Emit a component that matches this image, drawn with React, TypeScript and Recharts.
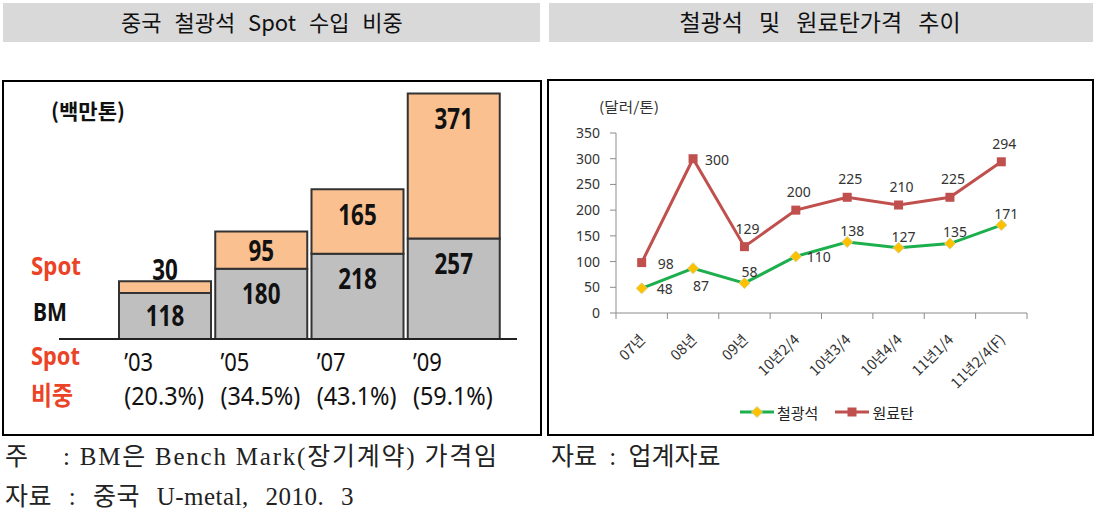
import { Bar, BarChart, LabelList, Legend, Line, LineChart, XAxis, YAxis } from 'recharts'

const KR = "'Noto Sans CJK KR', 'Noto Sans', sans-serif"
const LAT = "'Noto Sans', 'Noto Sans CJK KR', sans-serif"
const SERIF = "'Liberation Serif', 'DejaVu Serif', 'Noto Sans CJK KR', serif"

const RED_TXT = '#EB4326'
const PEACH = '#FAC090'
const GRAY = '#BFBFBF'
const ORE_GREEN = '#1DAF4E'
const DIAMOND = '#FFC000'
const COKE_RED = '#C0504D'
const AXIS = '#8C8C8C'

// 왼쪽: 중국 철광석 수입 (백만톤)
const YEARS = ['’03', '’05', '’07', '’09']
const BM = [118, 180, 218, 257]
const SPOT = [30, 95, 165, 371]
const SPOT_SHARE = ['(20.3%)', '(34.5%)', '(43.1%)', '(59.1%)']

// 오른쪽: 철광석 / 원료탄 가격 (달러/톤)
const PERIODS = ['07년', '08년', '09년', '10년2/4', '10년3/4', '10년4/4', '11년1/4', '11년2/4(F)']
const ORE = [48, 87, 58, 110, 138, 127, 135, 171]
const COKE = [98, 300, 129, 200, 225, 210, 225, 294]
const PRICE_TICKS = [0, 50, 100, 150, 200, 250, 300, 350]

// label placement (style only)
const ORE_LABEL_AT = ['right', 'bottom', 'top', 'right', 'top', 'top', 'top', 'top']
const COKE_LABEL_AT = ['right', 'right', 'top', 'top', 'top', 'top', 'top', 'top']
const ORE_SHIFT: Record<string, [number, number]> = { right: [23, 1], bottom: [8, 18], top: [5, -11] }
const COKE_SHIFT: Record<string, [number, number]> = { right: [24, 1], top: [3, -18] }

const importRows = YEARS.map((year, i) => ({ year, bm: BM[i], spot: SPOT[i] }))
const priceRows = PERIODS.map((period, i) => ({ period, ore: ORE[i], coke: COKE[i] }))

const PRICE_PLOT_W = 411
const BAND = PRICE_PLOT_W / PERIODS.length

// 막대 안 숫자: 세그먼트 위쪽에 두되, 너무 얇으면 막대 위로
function BarValue(props: any) {
  const { x = 0, y = 0, width = 0, height = 0, value } = props
  const h = Number(height)
  const cx = Number(x) + Number(width) / 2
  const cy = h < 34 ? Number(y) - 12 : Number(y) + Math.min(h / 2, 25)
  const s = String(value)
  return (
    <text x={cx} y={cy} dy="0.36em" textAnchor="middle" fontFamily={LAT} fontWeight={700} fontSize={29}
      fill="#111" textLength={s.length * 12.8} lengthAdjust="spacingAndGlyphs">
      {s}
    </text>
  )
}

function YearTick(props: any) {
  const { x = 0, y = 0, payload, index = 0 } = props
  const left = x - 41
  return (
    <g>
      <text x={left} y={y + 32} fontFamily={LAT} fontSize={25} fill="#111" textLength={29} lengthAdjust="spacingAndGlyphs">
        {payload?.value}
      </text>
      <text x={left} y={y + 66} fontFamily={LAT} fontSize={25} fill="#111" textLength={80} lengthAdjust="spacingAndGlyphs">
        {SPOT_SHARE[index]}
      </text>
    </g>
  )
}

function PeriodTick(props: any) {
  const { x = 0, y = 0, payload, index = 0 } = props
  const last = index === PERIODS.length - 1
  return (
    <g>
      <line x1={x - BAND / 2} x2={x - BAND / 2} y1={y} y2={y + 6} stroke={AXIS} />
      {last && <line x1={x + BAND / 2} x2={x + BAND / 2} y1={y} y2={y + 6} stroke={AXIS} />}
      <text transform={`translate(${x + 1},${y + 24}) rotate(-45)`} textAnchor="end" dy="0.35em"
        fontFamily={KR} fontSize={14.5} fill="#333">
        {payload?.value}
      </text>
    </g>
  )
}

function pointLabel(places: string[], shifts: Record<string, [number, number]>) {
  return (props: any) => {
    const { x = 0, y = 0, value, index = 0 } = props
    const [dx, dy] = shifts[places[index]] ?? [0, -14]
    return (
      <text x={Number(x) + dx} y={Number(y) + dy} dy="0.35em" textAnchor="middle" fontFamily={LAT} fontSize={14} fill="#333">
        {value}
      </text>
    )
  }
}

function Diamond({ cx = 0, cy = 0 }: { cx?: number; cy?: number }) {
  return <path d={`M${cx},${cy - 5.5}L${cx + 5.5},${cy}L${cx},${cy + 5.5}L${cx - 5.5},${cy}Z`} fill={DIAMOND} stroke="#D8D48A" strokeWidth={1} />
}

function Square({ cx = 0, cy = 0 }: { cx?: number; cy?: number }) {
  return <rect x={cx - 4.5} y={cy - 4.5} width={9} height={9} fill={COKE_RED} />
}

function PriceLegend() {
  const item = (color: string, marker: 'diamond' | 'square', label: string, gap: number) => (
    <div style={{ display: 'flex', alignItems: 'center', marginRight: gap }}>
      <svg width={34} height={14}>
        <line x1={0} x2={34} y1={7} y2={7} stroke={color} strokeWidth={3} />
        {marker === 'diamond' ? <Diamond cx={17} cy={7} /> : <Square cx={17} cy={7} />}
      </svg>
      <span style={{ marginLeft: 3 }}>{label}</span>
    </div>
  )
  return (
    <div style={{ display: 'flex', alignItems: 'center', height: 22, paddingLeft: 192, fontFamily: KR, fontSize: 15, color: '#222' }}>
      {item(ORE_GREEN, 'diamond', '철광석', 17)}
      {item(COKE_RED, 'square', '원료탄', 0)}
    </div>
  )
}

export default function App() {
  return (
    <div style={{ position: 'absolute', left: 0, top: 0, width: 1095, height: 511, background: '#fff' }}>
      <svg width={1095} height={511} style={{ position: 'absolute', left: 0, top: 0 }}>
        <rect x={3} y={3} width={537} height={39} fill="#D9D9D9" />
        <rect x={549} y={3} width={544} height={39} fill="#D9D9D9" />
        <text x={121} y={31} fontFamily={KR} fontSize={22} fill="#111" wordSpacing={8}>
          중국 철광석 Spot 수입 비중
        </text>
        <text x={820} y={31} textAnchor="middle" fontFamily={KR} fontSize={23} fill="#111" wordSpacing={11}>
          철광석 및 원료탄가격 추이
        </text>
        <rect x={3} y={81} width={538} height={354} fill="none" stroke="#000" strokeWidth={2} />
        <rect x={548} y={80} width={545} height={355} fill="none" stroke="#000" strokeWidth={2} />

        <text x={5} y={465} fontFamily={SERIF} fontSize={25} fill="#222">주</text>
        <text x={63} y={465} fontFamily={SERIF} fontSize={25} fill="#222" textLength={434} lengthAdjust="spacing">
          : BM은 Bench Mark(장기계약) 가격임
        </text>
        <text x={5} y={505} fontFamily={SERIF} fontSize={25} fill="#222" wordSpacing={10} letterSpacing={0.5}>
          자료 : 중국 U-metal, 2010. 3
        </text>
        <text x={551} y={465} fontFamily={SERIF} fontSize={25} fill="#222" wordSpacing={6}>
          자료 : 업계자료
        </text>
      </svg>

      <div style={{ position: 'absolute', left: 3, top: 81 }}>
        <BarChart width={538} height={354} data={importRows} margin={{ top: 4, right: 24, left: 56, bottom: 0 }}>
          <YAxis hide domain={[0, 650]} />
          <XAxis dataKey="year" height={96} padding={{ left: 58, right: 15 }} tickSize={0} tickMargin={0}
            axisLine={{ stroke: '#222', strokeWidth: 2 }} interval={0} tick={(p: any) => <YearTick {...p} />} />
          <Bar dataKey="bm" stackId="a" fill={GRAY} stroke="#333" strokeWidth={2} barSize={92} isAnimationActive={false}>
            <LabelList dataKey="bm" content={(p: any) => <BarValue {...p} />} />
          </Bar>
          <Bar dataKey="spot" stackId="a" fill={PEACH} stroke="#333" strokeWidth={2} barSize={92} isAnimationActive={false}>
            <LabelList dataKey="spot" content={(p: any) => <BarValue {...p} />} />
          </Bar>
        </BarChart>
      </div>

      <div style={{ position: 'absolute', left: 548, top: 80 }}>
        <LineChart width={545} height={355} data={priceRows} margin={{ top: 53, right: 66, left: 0, bottom: 12 }}>
          <YAxis width={68} domain={[0, 350]} ticks={PRICE_TICKS} interval={0} tickSize={6} tickMargin={10}
            axisLine={{ stroke: AXIS }} tickLine={{ stroke: AXIS }}
            tick={{ fontFamily: LAT, fontSize: 14, fill: '#333' }} />
          <XAxis dataKey="period" scale="band" height={88} tickSize={0} tickMargin={0} interval={0}
            axisLine={{ stroke: AXIS }} tick={(p: any) => <PeriodTick {...p} />} />
          <Legend verticalAlign="bottom" content={() => <PriceLegend />} wrapperStyle={{ left: 0, width: 545 }} />
          <Line dataKey="coke" stroke={COKE_RED} strokeWidth={3} isAnimationActive={false}
            dot={(p: any) => <Square key={`c${p.index}`} cx={p.cx} cy={p.cy} />} activeDot={false}>
            <LabelList dataKey="coke" content={pointLabel(COKE_LABEL_AT, COKE_SHIFT)} />
          </Line>
          <Line dataKey="ore" stroke={ORE_GREEN} strokeWidth={3} isAnimationActive={false}
            dot={(p: any) => <Diamond key={`o${p.index}`} cx={p.cx} cy={p.cy} />} activeDot={false}>
            <LabelList dataKey="ore" content={pointLabel(ORE_LABEL_AT, ORE_SHIFT)} />
          </Line>
        </LineChart>
      </div>

      <svg width={1095} height={511} style={{ position: 'absolute', left: 0, top: 0, pointerEvents: 'none' }}>
        <text x={51} y={119} fontFamily={KR} fontWeight={700} fontSize={21} fill="#111" textLength={74} lengthAdjust="spacingAndGlyphs">
          (백만톤)
        </text>
        <text x={31} y={275} fontFamily={LAT} fontWeight={700} fontSize={25} fill={RED_TXT} textLength={50} lengthAdjust="spacingAndGlyphs">
          Spot
        </text>
        <text x={33} y={321} fontFamily={LAT} fontWeight={700} fontSize={25} fill="#111" textLength={34} lengthAdjust="spacingAndGlyphs">
          BM
        </text>
        <text x={31} y={365} fontFamily={LAT} fontWeight={700} fontSize={25} fill={RED_TXT} textLength={49} lengthAdjust="spacingAndGlyphs">
          Spot
        </text>
        <text x={31} y={405} fontFamily={KR} fontWeight={700} fontSize={26} fill={RED_TXT} textLength={42} lengthAdjust="spacingAndGlyphs">
          비중
        </text>
        <text x={599} y={112} fontFamily={KR} fontSize={14} fill="#333" textLength={60} lengthAdjust="spacingAndGlyphs">
          (달러/톤)
        </text>
      </svg>
    </div>
  )
}
